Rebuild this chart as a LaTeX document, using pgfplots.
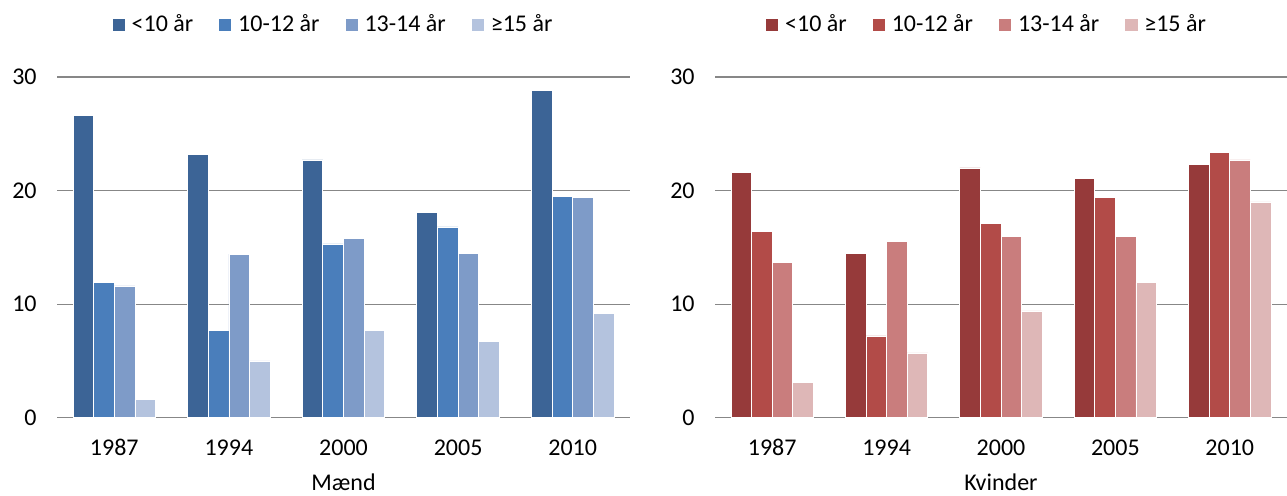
\documentclass[border=0pt]{standalone}
\usepackage{fontspec}
\setmainfont{Carlito}
\usepackage{pgfplots}
\pgfplotsset{compat=1.18}
\definecolor{b1}{HTML}{3C6496}
\definecolor{b2}{HTML}{4A7EBB}
\definecolor{b3}{HTML}{7E9BC8}
\definecolor{b4}{HTML}{B4C3DE}
\definecolor{r1}{HTML}{963A3A}
\definecolor{r2}{HTML}{B24B48}
\definecolor{r3}{HTML}{C97D7D}
\definecolor{r4}{HTML}{DEB7B7}
\definecolor{gridc}{HTML}{878787}
\pgfplotsset{
  sqleg/.style={legend image code/.code={\fill[##1] (0pt,-3.3pt) rectangle (6.6pt,3.3pt);}},
  panel/.style={
    scale only axis, height=170.3pt,
    ymin=0, ymax=30, xmin=-0.5, xmax=4.5,
    ybar=0pt, bar width=0.18,
    ytick={0,10,20,30},
    xtick={0,1,2,3,4},
    xticklabels={1987,1994,2000,2005,2010},
    ymajorgrids, grid style={draw=gridc, line width=0.65pt},
    axis x line*=bottom, axis y line*=left,
    y axis line style={draw=none},
    x axis line style={draw=gridc, line width=0.65pt, -},
    major tick length=0pt, tick style={draw=none},
    /pgf/number format/assume math mode=true,
    font=\fontsize{12}{14}\selectfont,
    tick label style={font=\fontsize{12}{14}\selectfont, text=black},
    yticklabel style={anchor=east, inner sep=0pt, xshift=-10pt},
    xticklabel style={anchor=center, inner sep=0pt, yshift=-15pt},
    xlabel style={at={(axis description cs:0.5,0)}, anchor=center, inner sep=0pt, yshift=-32.5pt},
    legend columns=4,
    legend style={draw=none, fill=none, font=\fontsize{12}{14}\selectfont,
      anchor=center, nodes={inner sep=0pt},
      /tikz/every odd column/.append style={column sep=3pt},
      /tikz/every even column/.append style={column sep=12.5pt}},
    every axis plot/.append style={draw=white, line width=0.4pt, sqleg},
  }
}
\begin{document}
\begin{tikzpicture}
\useasboundingbox (0,0) rectangle (643.5pt,248pt);
\begin{axis}[panel, at={(28.5pt,39.15pt)}, anchor=south west, width=286.5pt,
  xlabel={Mænd},
  legend style={at={(0.48,1.153)}}]
\addplot[fill=b1] coordinates {(0,26.6) (1,23.2) (2,22.7) (3,18.1) (4,28.8)};
\addplot[fill=b2] coordinates {(0,11.9) (1,7.7) (2,15.3) (3,16.8) (4,19.5)};
\addplot[fill=b3] coordinates {(0,11.6) (1,14.4) (2,15.8) (3,14.5) (4,19.4)};
\addplot[fill=b4] coordinates {(0,1.6) (1,5.0) (2,7.7) (3,6.7) (4,9.2)};
\legend{<10 år, 10-12 år, 13-14 år, ≥15 år}
\end{axis}
\begin{axis}[panel, at={(357.5pt,39.15pt)}, anchor=south west, width=286pt,
  xlabel={Kvinder},
  legend style={at={(0.473,1.153)}}]
\addplot[fill=r1] coordinates {(0,21.6) (1,14.5) (2,22.0) (3,21.1) (4,22.3)};
\addplot[fill=r2] coordinates {(0,16.4) (1,7.2) (2,17.1) (3,19.4) (4,23.4)};
\addplot[fill=r3] coordinates {(0,13.7) (1,15.5) (2,16.0) (3,16.0) (4,22.7)};
\addplot[fill=r4] coordinates {(0,3.1) (1,5.7) (2,9.4) (3,11.9) (4,19.0)};
\legend{<10 år, 10-12 år, 13-14 år, ≥15 år}
\end{axis}
\end{tikzpicture}
\end{document}
